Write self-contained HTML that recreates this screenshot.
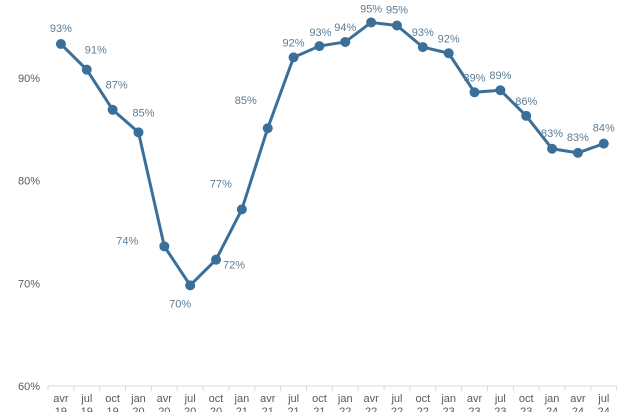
<!DOCTYPE html>
<html><head><meta charset="utf-8"><style>
html,body{margin:0;padding:0;background:#fff;overflow:hidden}
svg{display:block;font-family:"Liberation Sans",sans-serif}
</style></head><body>
<svg id="chart" width="630" height="412" viewBox="0 0 630 412"></svg>
<script>
const categories=["avr 19","jul 19","oct 19","jan 20","avr 20","jul 20","oct 20","jan 21","avr 21","jul 21","oct 21","jan 22","avr 22","jul 22","oct 22","jan 23","avr 23","jul 23","oct 23","jan 24","avr 24","jul 24"];
const values=[93.3,90.8,86.9,84.7,73.6,69.8,72.3,77.2,85.1,92.0,93.1,93.5,95.4,95.1,93.0,92.4,88.6,88.8,86.3,83.1,82.7,83.6];
const yTicks=[60,70,80,90];
const labelDx=[0,9,4,5,-37,-10,18,-21,-22,0,1,0,0,0,0,0,0,0,0,0,0,0];
const labelDy=[-16,-20,-25,-20,-6,18,5,-26,-28,-15,-14,-15,-14,-16,-15,-15,-15,-15,-15,-16,-16,-16];
const NS="http://www.w3.org/2000/svg";
const svg=document.getElementById('chart');
const x0=48,step=25.85;
const xs=i=>x0+step*(i+0.5);
const ys=v=>386-(v-60)*10.27;
function mk(t,a,p){const e=document.createElementNS(NS,t);for(const k in a)e.setAttribute(k,a[k]);(p||svg).appendChild(e);return e;}
yTicks.forEach(v=>{
  const t=mk('text',{x:40,y:ys(v)+4,'text-anchor':'end','font-size':11,fill:'#595959'});
  t.textContent=v+'%';
  
  
});
const ax=mk('line',{x1:x0,x2:x0+step*categories.length,y1:386,y2:386,stroke:'#d9d9d9','stroke-width':1});


for(let i=0;i<=categories.length;i++){
  const tk=mk('line',{x1:x0+step*i,x2:x0+step*i,y1:386,y2:391,stroke:'#d9d9d9'});
  
  
}
categories.forEach((c,i)=>{
  const [m,y]=c.split(' ');
  const t=mk('text',{x:xs(i),y:402,'text-anchor':'middle','font-size':11,fill:'#595959'});
  
  
  const s1=mk('tspan',{x:xs(i),y:402},t);s1.textContent=m;
  const s2=mk('tspan',{x:xs(i),y:415},t);s2.textContent=y;
});
const pl=mk('polyline',{points:values.map((v,i)=>xs(i)+','+ys(v)).join(' '),fill:'none',stroke:'#3a6f9a','stroke-width':3,'stroke-linejoin':'round'});


values.forEach((v,i)=>{
  const c=mk('circle',{cx:xs(i),cy:ys(v),r:5,fill:'#3a6f9a'});
  
  
  const t=mk('text',{x:xs(i)+labelDx[i],y:ys(v)+labelDy[i]+4,'text-anchor':'middle','font-size':11,fill:'#5b7d96'});
  t.textContent=Math.round(v)+'%';
  
  
});
</script>
</body></html>
